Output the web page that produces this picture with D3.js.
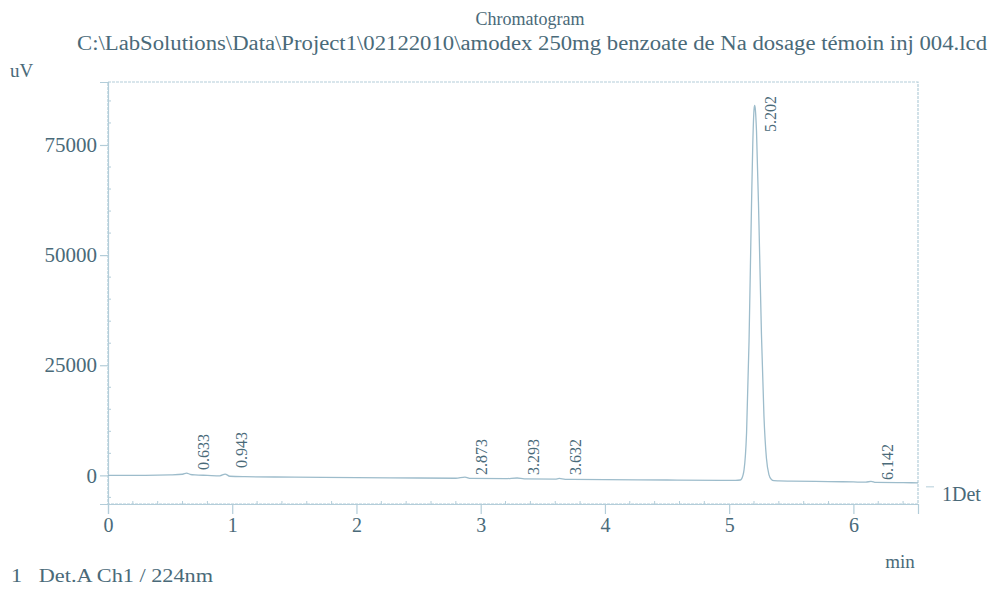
<!DOCTYPE html>
<html>
<head>
<meta charset="utf-8">
<script src="https://cdn.jsdelivr.net/npm/d3@7"></script>
<style>
  html, body { margin: 0; padding: 0; background: #ffffff; }
  svg { display: block; }
  text { font-family: "Liberation Serif", "Times New Roman", serif; fill: #4a6a79; }
</style>
</head>
<body>
<svg id="chart" width="993" height="593"></svg>
<script>
// ---------- data ----------
const titleLine1 = "Chromatogram";
const titleLine2 = "C:\\LabSolutions\\Data\\Project1\\02122010\\amodex 250mg benzoate de Na dosage témoin  inj 004.lcd";
const yUnit = "uV";
const xUnit = "min";
const detectorTag = "1Det";
const footnote = "1   Det.A Ch1 / 224nm";

// trace: retention time (min) and signal (uV)
const traceTime = [
  0.00, 0.30, 0.50, 0.60, 0.633, 0.66, 0.70, 0.80, 0.90, 0.943, 0.98, 1.10, 1.50, 2.00, 2.50,
  2.80, 2.873, 2.92, 3.20, 3.293, 3.35, 3.60, 3.632, 3.68, 4.00, 4.50, 5.00, 5.05, 5.09,
  5.10, 5.12, 5.14, 5.16, 5.18, 5.19, 5.20, 5.205, 5.21, 5.22, 5.24, 5.26, 5.28, 5.30, 5.32,
  5.34, 5.36, 5.40, 5.50, 5.80, 6.00, 6.10, 6.142, 6.18, 6.40, 6.52
];
const traceSignal = [
  0, 0, 100, 250, 500, 250, 100, 0, -100, 300, -200, -300, -400, -500, -600,
  -650, -400, -700, -750, -600, -800, -850, -700, -900, -950, -1050, -1150, -1150, -1050,
  -810, 1300, 9600, 30500, 61600, 75100, 83000, 84000, 83300, 78200, 56900, 31900, 13500, 3900, 170,
  -950, -1200, -1250, -1300, -1400, -1500, -1550, -1350, -1600, -1650, -1700
];

// integrated peaks: retention time labels and the signal level where each label starts
const peakTimes  = [0.633, 0.943, 2.873, 3.293, 3.632, 5.202, 6.142];
const peakLabels = ["0.633", "0.943", "2.873", "3.293", "3.632", "5.202", "6.142"];
const peakLabelLevel = [1220, 1670, 80, 80, 80, 77950, -1050];

// axes
const xTicks = [0, 1, 2, 3, 4, 5, 6];
const yTicks = [0, 25000, 50000, 75000];
const xDomain = [0, 6.52];
const yDomain = [-6500, 89300];
const xMinorStep = 0.2;
const yMinorStep = 5000;

// ---------- drawing ----------
(function draw() {
const svg = d3.select("#chart");
const mLeft = 108, mRight = 918, mTop = 82, mBottom = 504;
const lineColor = "#b3cdd9";
const traceColor = "#9dbccb";

const x = d3.scaleLinear().domain(xDomain).range([mLeft, mRight]);
const y = d3.scaleLinear().domain(yDomain).range([mBottom, mTop]);

// titles
svg.append("text").attr("x", 530).attr("y", 25).attr("text-anchor", "middle")
  .style("font-size", "18px").text(titleLine1);
svg.append("text").attr("x", 77).attr("y", 50)
  .attr("textLength", 910).attr("lengthAdjust", "spacingAndGlyphs")
  .style("font-size", "20px").text(titleLine2);

// frame
svg.append("rect").attr("x", mLeft).attr("y", mTop)
  .attr("width", mRight - mLeft).attr("height", mBottom - mTop)
  .attr("fill", "none").attr("stroke", lineColor).attr("stroke-width", 1.2)
  .attr("stroke-dasharray", "3,1");

// y axis
const yAxis = d3.axisLeft(y).tickValues(yTicks).tickSize(8).tickPadding(3).tickFormat(d3.format("d"));
const gy = svg.append("g").attr("transform", `translate(${mLeft},0)`).call(yAxis);
gy.select(".domain").attr("stroke", lineColor).attr("stroke-width", 1.2);
gy.selectAll(".tick line").attr("stroke", lineColor).attr("stroke-width", 1.2);
gy.selectAll(".tick text").style("font-size", "21px").attr("fill", "#4a6a79")
  .style("font-family", "Liberation Serif, serif");

const yMinor = d3.range(-5000, yDomain[1], yMinorStep).filter(v => !yTicks.includes(v));
svg.append("g").selectAll("line").data(yMinor).join("line")
  .attr("x1", mLeft).attr("x2", mLeft + 3)
  .attr("y1", d => y(d)).attr("y2", d => y(d))
  .attr("stroke", lineColor).attr("stroke-width", 1);

// x axis
const xAxis = d3.axisBottom(x).tickValues(xTicks).tickSize(10).tickPadding(4).tickFormat(d3.format("d"));
const gx = svg.append("g").attr("transform", `translate(0,${mBottom})`).call(xAxis);
gx.select(".domain").attr("stroke", lineColor).attr("stroke-width", 1.2);
gx.selectAll(".tick line").attr("stroke", lineColor).attr("stroke-width", 1.2);
gx.selectAll(".tick text").style("font-size", "20px").attr("fill", "#4a6a79")
  .style("font-family", "Liberation Serif, serif");

const xMinor = d3.range(xMinorStep, xDomain[1], xMinorStep).filter(v => Math.abs(v - Math.round(v)) > 1e-6);
svg.append("g").selectAll("line").data(xMinor).join("line")
  .attr("x1", d => x(d)).attr("x2", d => x(d))
  .attr("y1", mBottom).attr("y2", mBottom - 3)
  .attr("stroke", lineColor).attr("stroke-width", 1);

// trace
const points = traceTime.map((t, i) => [t, traceSignal[i]]);
const line = d3.line().x(d => x(d[0])).y(d => y(d[1])).curve(d3.curveMonotoneX);
svg.append("path").datum(points).attr("d", line)
  .attr("fill", "none").attr("stroke", traceColor).attr("stroke-width", 1.3);

// peak labels (rotated)
svg.append("g").selectAll("text").data(peakTimes).join("text")
  .attr("transform", (d, i) => `translate(${x(d) + 22},${y(peakLabelLevel[i])}) rotate(-90)`)
  .style("font-size", "16px").attr("fill", "#587785")
  .text((d, i) => peakLabels[i]);

// unit labels
svg.append("text").attr("x", 10).attr("y", 77).style("font-size", "19px").text(yUnit);
svg.append("text").attr("x", 900).attr("y", 568).attr("text-anchor", "middle").style("font-size", "19px").text(xUnit);
const lastY = y(traceSignal[traceSignal.length - 1]);
svg.append("line").attr("x1", mRight + 8).attr("x2", mRight + 16)
  .attr("y1", lastY + 4).attr("y2", lastY + 4)
  .attr("stroke", lineColor).attr("stroke-width", 1);
svg.append("text").attr("x", 942).attr("y", 501).style("font-size", "20px").text(detectorTag);
svg.append("text").attr("x", 11).attr("y", 582).style("font-size", "19px")
  .attr("textLength", 202).attr("lengthAdjust", "spacingAndGlyphs")
  .attr("xml:space", "preserve").style("white-space", "pre").text(footnote);
})();
</script>
</body>
</html>
